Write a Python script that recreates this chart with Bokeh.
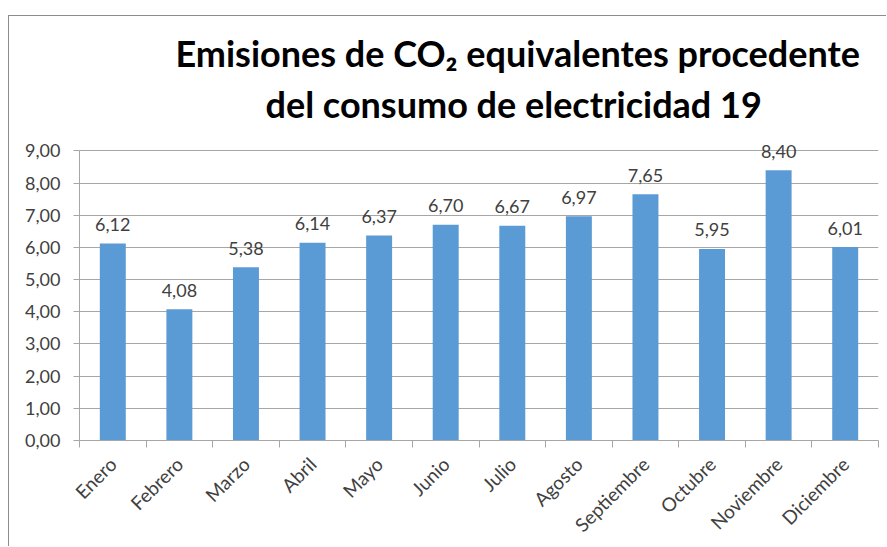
import math
from bokeh.plotting import figure
from bokeh.models import FixedTicker, ColumnDataSource, Title
from bokeh.core.properties import value
from bokeh.embed import file_html
from bokeh.resources import INLINE

months = ["Enero", "Febrero", "Marzo", "Abril", "Mayo", "Junio", "Julio",
          "Agosto", "Septiembre", "Octubre", "Noviembre", "Diciembre"]
emissions = [6.12, 4.08, 5.38, 6.14, 6.37, 6.70, 6.67, 6.97, 7.65, 5.95, 8.40, 6.01]
y_ticks = [0, 1, 2, 3, 4, 5, 6, 7, 8, 9]
title_lines = ["Emisiones de CO\u2082 equivalentes procedente",
               "del consumo de electricidad 19"]

FONT = "Lato"
TXT = "#404040"
GRID = "#a6a6a6"

centers = [i + 0.5 for i in range(len(months))]
labels = [f"{v:.2f}".replace(".", ",") for v in emissions]
src = ColumnDataSource(dict(x=centers, top=emissions, lab=labels))

p = figure(width=878, height=531, x_range=(0, 12), y_range=(0, 9.6),
           output_backend="svg", toolbar_location=None,
           min_border_left=70, min_border_right=9,
           min_border_top=115, min_border_bottom=107)
p.styles = {"margin-top": "15px", "margin-left": "8px",
            "border-top": "1px solid #8c8c8c",
            "border-left": "1px solid #8c8c8c"}
p.outline_line_color = None
p.background_fill_color = "white"
p.border_fill_color = "white"

p.vbar(x="x", top="top", width=0.39, bottom=0, source=src,
       fill_color="#5b9bd5", line_color=None)

p.text(x="x", y="top", text="lab", source=src, text_align="center",
       text_baseline="alphabetic", y_offset=-19,
       text_font=value(FONT), text_font_size="18px", text_color=TXT)

# Y axis
p.yaxis.ticker = FixedTicker(ticks=y_ticks)
p.yaxis.major_label_overrides = {t: f"{t:.2f}".replace(".", ",") for t in y_ticks}
p.yaxis.bounds = (0, 9)
p.yaxis.minor_tick_line_color = None
p.yaxis.major_tick_out = 6
p.yaxis.major_tick_in = 0
p.yaxis.major_tick_line_color = GRID
p.yaxis.axis_line_color = GRID
p.yaxis.major_label_text_font = FONT
p.yaxis.major_label_text_font_size = "18px"
p.yaxis.major_label_text_color = TXT
p.yaxis.major_label_standoff = 13

p.ygrid.ticker = FixedTicker(ticks=y_ticks)
p.ygrid.grid_line_color = GRID
p.xgrid.grid_line_color = None

# X axis
p.xaxis.ticker = FixedTicker(ticks=centers, minor_ticks=list(range(13)))
p.xaxis.major_label_overrides = {c: m for c, m in zip(centers, months)}
p.xaxis.major_tick_line_color = None
p.xaxis.minor_tick_line_color = GRID
p.xaxis.minor_tick_out = 7
p.xaxis.minor_tick_in = 0
p.xaxis.axis_line_color = GRID
p.xaxis.major_label_orientation = math.pi / 4
p.xaxis.major_label_text_font = FONT
p.xaxis.major_label_text_font_size = "19px"
p.xaxis.major_label_text_color = TXT
p.xaxis.major_label_standoff = 13

# Title (two lines; later-added titles sit further from the plot)
for txt, off, stand in [(title_lines[1], 186, 11), (title_lines[0], 96, 0)]:
    p.add_layout(Title(text=txt, align="left", offset=off, standoff=stand,
                       text_font=FONT, text_font_style="bold",
                       text_font_size="36px", text_color="black"), "above")

open("out.html", "w").write(file_html(p, INLINE))
